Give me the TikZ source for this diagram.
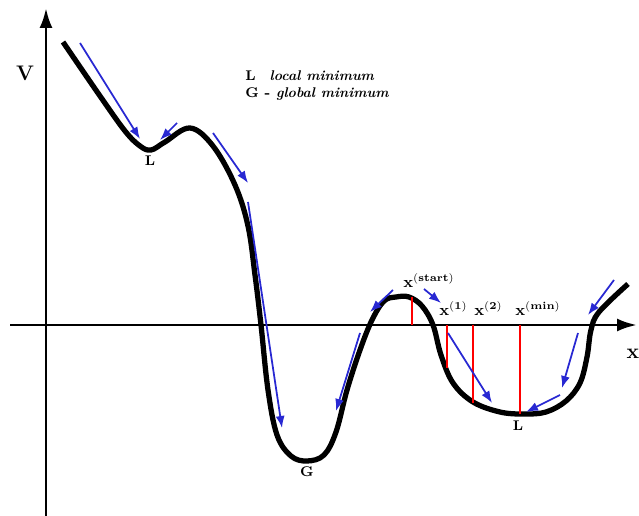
\documentclass[tikz,border=0pt]{standalone}
\usetikzlibrary{arrows.meta,positioning}
\definecolor{slideblue}{RGB}{40,40,210}
\begin{document}
\begin{tikzpicture}[
  x=0.02cm,
  y=-0.02cm,
  axis/.style={
    line width=1.7pt,
    -{Latex[length=4mm,width=2.6mm]}
  },
  energy/.style={
    line width=3pt,
    line join=round
  },
  slide/.style={
    slideblue,
    line width=1pt,
    -{Latex[length=2.4mm,width=1.8mm]}
  },
  probe/.style={
    red,
    line width=1pt
  },
  minlabel/.style={
    font=\footnotesize\bfseries,
    inner sep=1pt
  },
  xlabel/.style={
    font=\small\bfseries,
    inner sep=0pt,
    anchor=base west
  },
  legend/.style={
    font=\footnotesize\bfseries,
    inner sep=0pt,
    anchor=base west
  }
]
\useasboundingbox (0,0) rectangle (639,516);

% Axes
\draw[axis] (46,516) -- (46,8);
\draw[axis] (10,325) -- (637,325);
\node[font=\large\bfseries] (vlab) at (25,73) {V};
\node[font=\large\bfseries] (xlab) at (633,354) {x};

% Legend
\node[legend] (leg1) at (245,81) {L\quad\textit{local minimum}};
\node[legend] (leg2) at (245,98) {G - \textit{global minimum}};

% Energy curve
\draw[energy] plot[smooth, tension=0.6] coordinates {
  (63,42) (100,96) (125,131) (140,146) (151,150) (165,142)
  (190,128) (213,146) (235,185) (248,226) (255,275) (261,325)
  (268,390) (277,435) (291,456) (307,461) (324,455) (336,432)
  (347,390) (360,350) (372,320) (384,301) (396,297) (409,297)
  (422,306) (433,325) (441,355) (453,383) (473,402) (500,412)
  (524,414) (546,412) (566,401) (580,383) (587,357) (591,330)
  (599,312) (628,284)
};

% Minima
\node[minlabel] (l1) at (150,161) {L};
\node[minlabel] (g) at (307,472) {G};
\node[minlabel] (l2) at (518,426) {L};

% Iterates
\draw[probe] (412,297) -- (412,325);
\draw[probe] (447,325) -- (447,368);
\draw[probe] (473,325) -- (473,403);
\draw[probe] (520,325) -- (520,414);
\node[xlabel] (xs) at (403,288) {x$^{\mathbf{(start)}}$};
\node[xlabel] (x1) at (439,316) {x$^{\mathbf{(1)}}$};
\node[xlabel] (x2) at (474,316) {x$^{\mathbf{(2)}}$};
\node[xlabel] (xm) at (515,316) {x$^{\mathbf{(min)}}$};

% Downhill moves
\draw[slide] (80,43) -- (140,139);
\draw[slide] (177,123) -- (160,140);
\draw[slide] (213,133) -- (248,183);
\draw[slide] (248,202) -- (282,428);
\draw[slide] (360,333) -- (336,411);
\draw[slide] (393,290) -- (370,312);
\draw[slide] (424,289) -- (441,303);
\draw[slide] (448,333) -- (492,403);
\draw[slide] (614,280) -- (588,315);
\draw[slide] (578,333) -- (562,388);
\draw[slide] (560,395) -- (526,412);

\end{tikzpicture}
\end{document}
